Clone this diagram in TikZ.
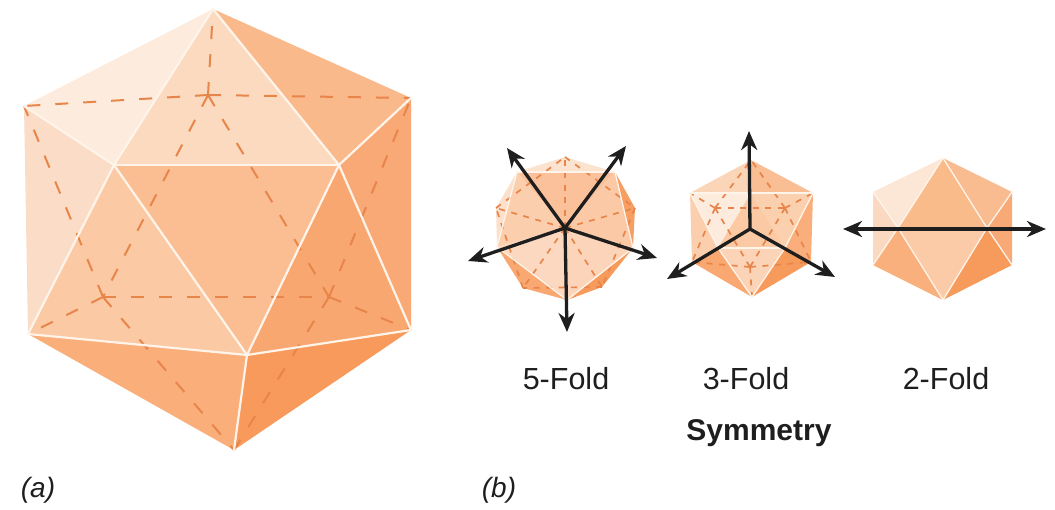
\documentclass[tikz,border=0pt]{standalone}
\usepackage{fontspec}
\setmainfont{Liberation Sans}
\usetikzlibrary{arrows.meta}
\definecolor{ink}{HTML}{1E1E1E}
\definecolor{dashc}{HTML}{E8854A}
\definecolor{edgec}{HTML}{FFF4EA}
\tikzset{
  x=1pt,y=-1pt,
  hid/.style={dashc,line width=2pt,dash pattern=on 13pt off 15pt,line cap=butt},
  hidsmall/.style={dashc,line width=1.7pt,dash pattern=on 6pt off 6.5pt},
  ridge/.style={edgec,line width=2.2pt,line cap=round},
  ridgesmall/.style={edgec,line width=1.3pt,line cap=round},
  axis/.style={ink,line width=3.3pt,-{Stealth[length=19pt,width=16pt,inset=6pt]},shorten <=-1pt},
  dblaxis/.style={ink,line width=3.3pt,{Stealth[length=19pt,width=16pt,inset=6pt]}-{Stealth[length=19pt,width=16pt,inset=6pt]}},
  lab/.style={anchor=base,font=\fontsize{30.5}{32}\selectfont,text=ink,inner sep=0pt},
  labb/.style={anchor=base,font=\fontsize{30}{32}\selectfont\bfseries,text=ink,inner sep=0pt},
  labi/.style={anchor=base,font=\fontsize{28}{32}\selectfont\itshape,text=ink,inner sep=0pt},
}
\newcommand{\fc}[4]{\definecolor{facec}{HTML}{#1}\fill[facec] (#2) -- (#3) -- (#4) -- cycle;}
\begin{document}
\begin{tikzpicture}
\useasboundingbox (0,0) rectangle (1055,509);
% ---------- (a) large icosahedron
\coordinate (T) at (213,9);
\coordinate (LU) at (24,106);
\coordinate (RU) at (411,98);
\coordinate (IL) at (114,165);
\coordinate (IR) at (339,165);
\coordinate (LL) at (28,334);
\coordinate (RL) at (411,330);
\coordinate (IB) at (247,355);
\coordinate (B) at (234,450);
\coordinate (H1) at (208,95);
\coordinate (H2) at (103,297);
\coordinate (H3) at (329,297);
\fc{FDEBDD}{T}{LU}{IL}
\fc{FBDABF}{T}{IL}{IR}
\fc{F9B98A}{T}{IR}{RU}
\fc{FBDCC6}{LU}{IL}{LL}
\fc{FBC9A3}{IL}{LL}{IB}
\fc{FBBE93}{IL}{IR}{IB}
\fc{F9A771}{IR}{IB}{RL}
\fc{F9A976}{IR}{RU}{RL}
\fc{FAAE7A}{LL}{IB}{B}
\fc{F79A5C}{IB}{RL}{B}
\foreach \a/\b in {H1/T,H1/LU,H1/RU,H1/H2,H1/H3,H2/H3,H2/LU,H2/LL,H2/B,H3/RU,H3/RL,H3/B}
  \draw[hid] (\a) -- (\b);
\foreach \a/\b in {T/IL,T/IR,IL/IR,LU/IL,RU/IR,IL/LL,IL/IB,IR/IB,IR/RL,LL/IB,IB/RL,IB/B}
  \draw[ridge] (\a) -- (\b);
% ---------- 5-fold
\coordinate (c5) at (565,228);
\coordinate (f0) at (565,157);
\coordinate (f1) at (635,208);
\coordinate (f2) at (602,287);
\coordinate (f3) at (523,288);
\coordinate (f4) at (496,208);
\coordinate (p1) at (517,172);
\coordinate (p2) at (615,172);
\coordinate (p3) at (633,248);
\coordinate (p4) at (567,300);
\coordinate (p5) at (497,247);
\fc{FCE3D0}{p1}{f0}{p2}
\fc{F79E62}{p2}{f1}{p3}
\fc{F79B5C}{p3}{f2}{p4}
\fc{F9A871}{p4}{f3}{p5}
\fc{FCE0CC}{p5}{f4}{p1}
\fc{FBC19A}{c5}{p1}{p2}
\fc{FBC9A5}{c5}{p2}{p3}
\fc{FCD4B9}{c5}{p3}{p4}
\fc{FCD8C0}{c5}{p4}{p5}
\fc{FBCFAE}{c5}{p5}{p1}
\foreach \a/\b in {c5/f0,c5/f1,c5/f2,c5/f3,c5/f4,f0/f1,f1/f2,f2/f3,f3/f4,f4/f0}
  \draw[hidsmall] (\a) -- (\b);
\foreach \a/\b in {p1/p2,p2/p3,p3/p4,p4/p5,p5/p1}
  \draw[ridgesmall] (\a) -- (\b);
\coordinate (a51) at (507,148);
\coordinate (a52) at (626,146);
\coordinate (a53) at (657,258);
\coordinate (a54) at (567,332);
\coordinate (a55) at (468,261);
\foreach \e in {a51,a52,a53,a54,a55}
  \draw[axis] (c5) -- (\e);
% ---------- 3-fold
\coordinate (c3) at (750,229);
\coordinate (tt) at (751,160);
\coordinate (tur) at (813,193);
\coordinate (tlr) at (811,262);
\coordinate (tb) at (752,297);
\coordinate (tll) at (692,262);
\coordinate (tul) at (690,193);
\coordinate (tp) at (751,193);
\coordinate (tq) at (718,248);
\coordinate (tr) at (785,248);
\coordinate (th1) at (715,208);
\coordinate (th2) at (785,208);
\coordinate (th3) at (750,267);
\fc{FBD5B8}{tul}{tt}{tp}
\fc{F9BE93}{tt}{tur}{tp}
\fc{FDEBDD}{tul}{tp}{tq}
\fc{FBD0AF}{tp}{tur}{tr}
\fc{FBC9A3}{tp}{tq}{tr}
\fc{FBCFAE}{tul}{tq}{tll}
\fc{F9AE7B}{tur}{tr}{tlr}
\fc{FBD3B6}{tq}{tr}{tb}
\fc{F9A871}{tll}{tq}{tb}
\fc{F79B5C}{tr}{tlr}{tb}
\foreach \a/\b in {th1/th2,th1/th3,th2/th3,th1/tul,th1/tt,th1/tll,th2/tt,th2/tur,th2/tlr,th3/tll,th3/tlr,th3/tb}
  \draw[hidsmall] (\a) -- (\b);
\foreach \a/\b in {tul/tur,tul/tq,tur/tr,tq/tr,tq/tb,tr/tb}
  \draw[ridgesmall] (\a) -- (\b);
\coordinate (a31) at (749,131);
\coordinate (a32) at (667,279);
\coordinate (a33) at (835,277);
\foreach \e in {a31,a32,a33}
  \draw[axis] (c3) -- (\e);
% ---------- 2-fold
\coordinate (dt) at (943,158);
\coordinate (dur) at (1012,192);
\coordinate (dlr) at (1012,265);
\coordinate (db) at (943,300);
\coordinate (dll) at (873,265);
\coordinate (dul) at (873,192);
\coordinate (dl) at (898,228);
\coordinate (dr) at (987,228);
\fc{FCE7D7}{dt}{dul}{dl}
\fc{FABB8B}{dt}{dl}{dr}
\fc{F9BC90}{dt}{dr}{dur}
\fc{F9A976}{dur}{dr}{dlr}
\fc{FBD9C0}{dul}{dl}{dll}
\fc{FAB07C}{dll}{dl}{db}
\fc{FBCBA8}{dl}{dr}{db}
\fc{F79B5C}{dr}{dlr}{db}
\foreach \a/\b in {dt/dl,dt/dr,dl/dul,dl/dll,dl/db,dr/dur,dr/dlr,dr/db}
  \draw[ridgesmall] (\a) -- (\b);
\coordinate (a21) at (843,229);
\coordinate (a22) at (1046,229);
\draw[dblaxis] (a21) -- (a22);
% ---------- labels
\node[lab] (l5) at (566,389) {5-Fold};
\node[lab] (l3) at (746,389) {3-Fold};
\node[lab] (l2) at (946,389) {2-Fold};
\node[labb] (ls) at (759,440) {Symmetry};
\node[labi] (la) at (38,497) {(a)};
\node[labi] (lb) at (499,497) {(b)};
\end{tikzpicture}
\end{document}
